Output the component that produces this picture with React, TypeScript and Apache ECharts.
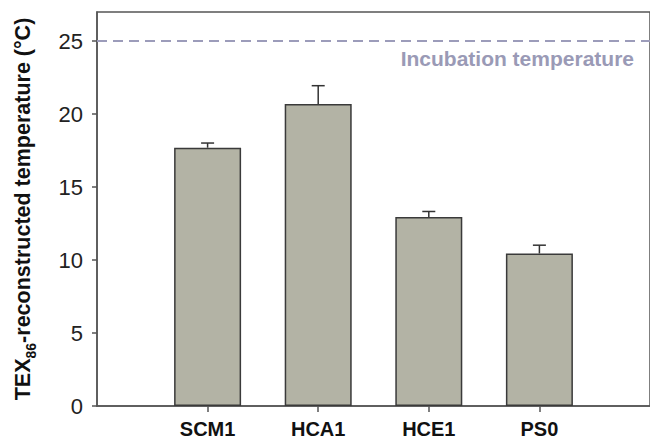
import React, { useEffect, useRef } from "react";
import * as echarts from "echarts";

const categories = ["SCM1", "HCA1", "HCE1", "PS0"];
const positions = [1, 2, 3, 4];
const tempValues = [17.7, 20.7, 12.95, 10.45];
const tempErrors = [0.32, 1.25, 0.38, 0.57];
const incubationTemp = 25;
const yTicks = [0, 5, 10, 15, 20, 25];

const FONT = "'Liberation Sans', Arial, sans-serif";

export default function App() {
  const ref = useRef<HTMLDivElement>(null);
  useEffect(() => {
    document.body.style.margin = "0";
    const chart = echarts.init(ref.current!, null, { renderer: "svg" });
    const barData = positions.map((p, i) => [p, tempValues[i]]);
    const errData = positions.map((p, i) => [p, tempValues[i], tempValues[i] + tempErrors[i]]);
    chart.setOption({
      animation: false,
      backgroundColor: "#ffffff",
      grid: {
        left: 97,
        top: 12,
        width: 560,
        height: 394,
        show: true,
        borderColor: "#555555",
        borderWidth: 1.5,
        backgroundColor: "transparent",
      },
      xAxis: {
        type: "value",
        min: 0,
        max: 5,
        splitLine: { show: false },
        axisLine: { show: true, lineStyle: { color: "#555555", width: 1.5 } },
        axisTick: {
          show: true,
          length: 6,
          customValues: positions,
          lineStyle: { color: "#555555", width: 1.5 },
        },
        axisLabel: {
          customValues: positions,
          margin: 13,
          fontFamily: FONT,
          fontSize: 20,
          fontWeight: "bold",
          color: "#111111",
          formatter: (v: number) => categories[Math.round(v) - 1] ?? "",
        },
      },
      yAxis: {
        type: "value",
        min: 0,
        max: 27,
        splitLine: { show: false },
        axisLine: { show: true, lineStyle: { color: "#555555", width: 1.5 } },
        axisTick: {
          show: true,
          length: 5,
          customValues: yTicks,
          lineStyle: { color: "#555555", width: 1.5 },
        },
        axisLabel: {
          customValues: yTicks,
          margin: 14,
          fontFamily: FONT,
          fontSize: 22,
          color: "#222222",
        },
        name: "{a|TEX}{s|86}{a|-reconstructed temperature (°C)}",
        nameLocation: "middle",
        nameGap: 62,
        nameRotate: 90,
        nameTextStyle: {
          rich: {
            a: { fontFamily: FONT, fontSize: 21.5, fontWeight: "bold", color: "#111111", lineHeight: 24 },
            s: { fontFamily: FONT, fontSize: 14, fontWeight: "bold", color: "#111111", verticalAlign: "bottom", lineHeight: 24, padding: [0, 0, -3, 0] },
          },
        },
      },
      series: [
        {
          type: "bar",
          data: barData,
          barWidth: 67,
          itemStyle: { color: "#b3b3a5", borderColor: "#3a3a3a", borderWidth: 1.5 },
          markLine: {
            silent: true,
            symbol: "none",
            label: { show: false },
            lineStyle: { color: "#9c9cba", width: 2, type: [10, 6] },
            data: [{ yAxis: incubationTemp }],
          },
          z: 2,
        },
        {
          type: "custom",
          data: errData,
          z: 3,
          renderItem: (params: any, api: any) => {
            const x = api.value(0);
            const base = api.coord([x, api.value(1)]);
            const top = api.coord([x, api.value(2)]);
            const half = 6.5;
            return {
              type: "group",
              children: [
                { type: "line", shape: { x1: base[0], y1: base[1], x2: top[0], y2: top[1] }, style: { stroke: "#333333", lineWidth: 1.5 } },
                { type: "line", shape: { x1: top[0] - half, y1: top[1], x2: top[0] + half, y2: top[1] }, style: { stroke: "#333333", lineWidth: 1.5 } },
              ],
            };
          },
        },
      ],
      graphic: [
        {
          type: "text",
          right: 16,
          top: 48,
          style: {
            text: "Incubation temperature",
            fontFamily: FONT,
            fontSize: 21,
            fontWeight: "bold",
            fill: "#9a9ab6",
          },
        },
      ],
    });
    return () => chart.dispose();
  }, []);
  return <div ref={ref} style={{ width: 650, height: 443 }} />;
}
